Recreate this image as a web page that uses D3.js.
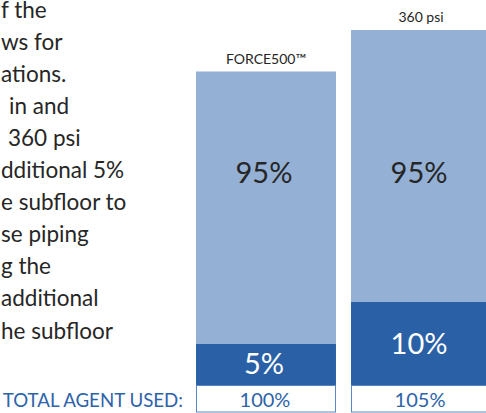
<!DOCTYPE html>
<html>
<head>
<meta charset="utf-8">
<script src="https://cdn.jsdelivr.net/npm/d3@7"></script>
<style>
  html, body { margin: 0; padding: 0; background: #fff; }
  svg { display: block; font-family: Lato, "Open Sans", sans-serif; }
</style>
</head>
<body>
<svg id="chart" width="486" height="413"></svg>
<script>
"use strict";

// Chart data
var categories = ["FORCE500\u2122", "360 psi"];
var baseValues = [95, 95];       // agent reaching the protected space
var extraValues = [5, 10];       // agent lost in the subfloor
var totalLabels = ["100%", "105%"];

// Paragraph text, cut by the left edge of the slide
var paragraphLines = [
    "f the", "ws for", "ations.", "in and", "360 psi", "dditional 5%",
    "e subfloor to", "se piping", "g the", "additional", "he subfloor"
];
var paragraphStarts = [1, 1, 1, 9, 8, 1, 1, 1, 1, 1, 1];

var svg = d3.select("#chart");
var width = +svg.attr("width");
var height = +svg.attr("height");

var lightBlue = "#94b0d5";
var darkBlue = "#2a60a5";
var textBlue = "#2e63a9";
var boxBlue = "#5a87c2";

var baseline = 385;

var x = d3.scaleBand()
    .domain(categories)
    .range([196, 491])
    .paddingInner(0.097);

// the two stacked parts are drawn at different scales in the original
var baseHeight = d3.scaleLinear().domain([0, 95]).range([0, 272]);
var extraHeight = d3.scaleLinear().domain([0, 10]).range([0, 83]);

var rows = categories.map(function (c, i) {
    return { cat: c, base: baseValues[i], extra: extraValues[i], total: totalLabels[i] };
});

// Paragraph
svg.append("g")
    .selectAll("text")
    .data(paragraphLines)
    .enter()
    .append("text")
    .attr("x", function (d, i) { return paragraphStarts[i]; })
    .attr("y", function (d, i) { return 17.5 + i * 32.1; })
    .attr("font-size", 22.5)
    .attr("fill", "#262626")
    .text(function (d) { return d; });

var bars = svg.append("g")
    .selectAll("g")
    .data(rows)
    .enter()
    .append("g");

// dark (extra) part
bars.append("rect")
    .attr("x", function (d) { return x(d.cat); })
    .attr("width", x.bandwidth())
    .attr("y", function (d) { return baseline - extraHeight(d.extra); })
    .attr("height", function (d) { return extraHeight(d.extra); })
    .attr("fill", darkBlue);

// light (base) part
bars.append("rect")
    .attr("x", function (d) { return x(d.cat); })
    .attr("width", x.bandwidth())
    .attr("y", function (d) { return baseline - extraHeight(d.extra) - baseHeight(d.base); })
    .attr("height", function (d) { return baseHeight(d.base); })
    .attr("fill", lightBlue);

// category labels above bars
bars.append("text")
    .attr("x", function (d) { return x(d.cat) + x.bandwidth() / 2; })
    .attr("y", function (d) { return baseline - extraHeight(d.extra) - baseHeight(d.base) - 8; })
    .attr("text-anchor", "middle")
    .attr("font-size", 14)
    .attr("fill", "#262626")
    .text(function (d) { return d.cat; });

// base value labels
bars.append("text")
    .attr("x", function (d) { return x(d.cat) + x.bandwidth() / 2 - 2; })
    .attr("y", 183)
    .attr("text-anchor", "middle")
    .attr("font-size", 29)
    .attr("fill", "#262626")
    .text(function (d) { return d.base + "%"; });

// extra value labels
bars.append("text")
    .attr("x", function (d) { return x(d.cat) + x.bandwidth() / 2 - 2; })
    .attr("y", function (d) { return baseline - extraHeight(d.extra) / 2; })
    .attr("dy", "0.35em")
    .attr("text-anchor", "middle")
    .attr("font-size", 29)
    .attr("fill", "#fff")
    .text(function (d) { return d.extra + "%"; });

// total boxes
bars.append("rect")
    .attr("x", function (d) { return x(d.cat) + 0.5; })
    .attr("width", x.bandwidth() - 1)
    .attr("y", baseline + 0.5)
    .attr("height", 26.5)
    .attr("fill", "#fff")
    .attr("stroke", boxBlue)
    .attr("stroke-width", 1);

bars.append("text")
    .attr("x", function (d) { return x(d.cat) + x.bandwidth() / 2 - 1; })
    .attr("y", 406.5)
    .attr("text-anchor", "middle")
    .attr("font-size", 20)
    .attr("fill", textBlue)
    .text(function (d) { return d.total; });

svg.append("text")
    .attr("x", 183)
    .attr("y", 406.5)
    .attr("text-anchor", "end")
    .attr("font-size", 18.7)
    .attr("fill", textBlue)
    .text("TOTAL AGENT USED:");
</script>
</body>
</html>
